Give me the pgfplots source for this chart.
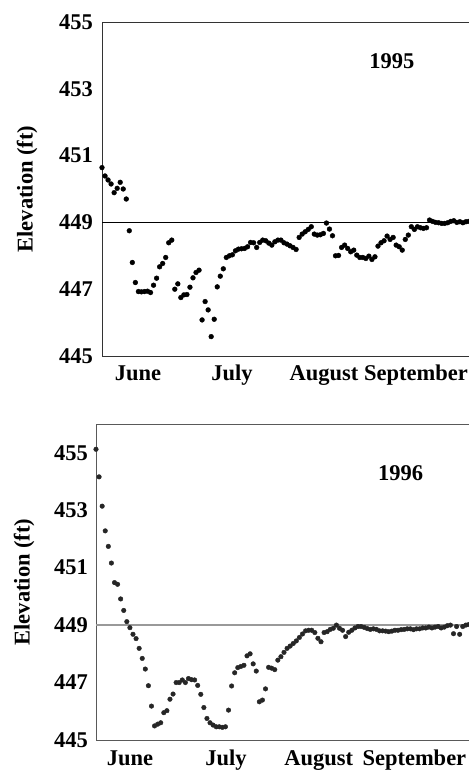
\documentclass[border=0pt]{standalone}
\usepackage{fontspec}
\setmainfont{Liberation Serif}
\usepackage{pgfplots}
\usepackage{pgfplotstable}
\pgfplotsset{compat=1.18}

\pgfplotstableread{
d e
0 450.64
1 450.39
2 450.27
3 450.15
4 449.89
5 450.02
6 450.20
7 450.00
8 449.70
9 448.75
10 447.80
11 447.20
12 446.93
13 446.92
14 446.93
15 446.94
16 446.90
17 447.12
18 447.33
19 447.67
20 447.77
21 447.95
22 448.39
23 448.47
24 447.00
25 447.16
26 446.75
27 446.83
28 446.84
29 447.06
30 447.34
31 447.50
32 447.57
33 446.08
34 446.63
35 446.38
36 445.58
37 446.10
38 447.07
39 447.39
40 447.61
41 447.95
42 448.00
43 448.03
44 448.15
45 448.20
46 448.21
47 448.22
48 448.27
49 448.40
50 448.39
51 448.25
52 448.40
53 448.47
54 448.45
55 448.38
56 448.32
57 448.42
58 448.47
59 448.47
60 448.39
61 448.35
62 448.30
63 448.25
64 448.19
65 448.55
66 448.65
67 448.72
68 448.79
69 448.87
70 448.65
71 448.62
72 448.63
73 448.67
74 448.98
75 448.80
76 448.60
77 448.00
78 448.01
79 448.25
80 448.32
81 448.22
82 448.12
83 448.17
84 448.02
85 447.95
86 447.95
87 447.92
88 447.99
89 447.89
90 447.97
91 448.29
92 448.39
93 448.45
94 448.59
95 448.49
96 448.55
97 448.32
98 448.27
99 448.17
100 448.49
101 448.62
102 448.87
103 448.79
104 448.87
105 448.84
106 448.82
107 448.84
108 449.07
109 449.03
110 449.00
111 448.99
112 448.97
113 448.97
114 448.99
115 449.03
116 449.05
117 449.00
118 449.02
119 448.99
120 449.02
121 449.03
}\topdata

\pgfplotstableread{
d e
0 455.12
1 454.16
2 453.14
3 452.28
4 451.74
5 451.16
6 450.48
7 450.42
8 449.91
9 449.51
10 449.12
11 448.91
12 448.68
13 448.53
14 448.19
15 447.84
16 447.47
17 446.89
18 446.18
19 445.49
20 445.55
21 445.60
22 445.95
23 446.02
24 446.42
25 446.60
26 447.00
27 447.00
28 447.09
29 447.00
30 447.14
31 447.10
32 447.09
33 446.90
34 446.59
35 446.13
36 445.75
37 445.60
38 445.52
39 445.46
40 445.46
41 445.44
42 445.46
43 446.04
44 446.88
45 447.34
46 447.52
47 447.56
48 447.60
49 447.93
50 448.00
51 447.65
52 447.40
53 446.33
54 446.39
55 446.78
56 447.53
57 447.50
58 447.45
59 447.78
60 447.90
61 448.05
62 448.19
63 448.27
64 448.36
65 448.45
66 448.57
67 448.69
68 448.80
69 448.82
70 448.82
71 448.74
72 448.54
73 448.42
74 448.74
75 448.77
76 448.85
77 448.89
78 449.00
79 448.89
80 448.82
81 448.60
82 448.75
83 448.82
84 448.90
85 448.95
86 448.95
87 448.92
88 448.88
89 448.85
90 448.87
91 448.85
92 448.80
93 448.80
94 448.79
95 448.77
96 448.79
97 448.82
98 448.82
99 448.84
100 448.85
101 448.87
102 448.87
103 448.84
104 448.87
105 448.87
106 448.90
107 448.90
108 448.93
109 448.90
110 448.93
111 448.95
112 448.90
113 448.93
114 448.98
115 449.00
116 448.70
117 448.95
118 448.68
119 448.95
120 449.00
121 449.02
}\botdata

\newcommand{\bigfont}{\fontsize{22.5bp}{27bp}\selectfont}

\pgfplotsset{
  elev/.style={
    anchor=south west, scale only axis,
    xmin=0, xmax=122, ymin=445,
    ytick={445,447,449,451,453,455},
    xticklabels={June,July,August,September},
    major tick length=0pt,
    clip=false,
    /pgf/number format/assume math mode=true,
    tick label style={font=\bigfont\bfseries},
    yticklabel style={anchor=east, inner sep=0pt},
    xticklabel style={anchor=base, inner sep=0pt},
    ylabel={Elevation (ft)},
    ylabel style={anchor=center, font=\bigfont\bfseries},
  }
}

\begin{document}
\begin{tikzpicture}
\path[use as bounding box] (0,0) rectangle (469bp,771bp);

% ---------- 1995 ----------
\begin{axis}[elev,
  at={(102bp,415bp)}, width=370bp, height=334bp, ymax=455,
  xtick={11.9,42.9,73.2,103.5},
  axis line style={draw=black!80, line width=0.8bp},
  yticklabel style={xshift=-9bp},
  xticklabel style={yshift=-25bp},
  ylabel style={at={(axis description cs:-0.2027,0.5)}},
]
\addplot[black, line width=0.8bp, no marks] coordinates {(0,449) (122,449)};
\addplot[only marks, mark=*, mark size=2.4bp, black] table[x=d, y=e] {\topdata};
\node[font=\bigfont\bfseries] at (axis cs:95.6,453.83) {1995};
\end{axis}

% ---------- 1996 ----------
\begin{axis}[elev,
  at={(96bp,31bp)}, width=376bp, height=316bp, ymax=456,
  xtick={11.0,42.2,72.3,103.3},
  axis line style={draw=black!65, line width=0.8bp},
  yticklabel style={xshift=-8bp},
  xticklabel style={yshift=-25bp},
  ylabel style={at={(axis description cs:-0.1915,0.5)}},
]
\addplot[black!40, line width=1.3bp, no marks] coordinates {(0,449) (122,449)};
\addplot[only marks, mark=*, mark size=2.3bp, black!85] table[x=d, y=e] {\botdata};
\node[font=\bigfont\bfseries] at (axis cs:98.8,454.29) {1996};
\end{axis}
\end{tikzpicture}
\end{document}
